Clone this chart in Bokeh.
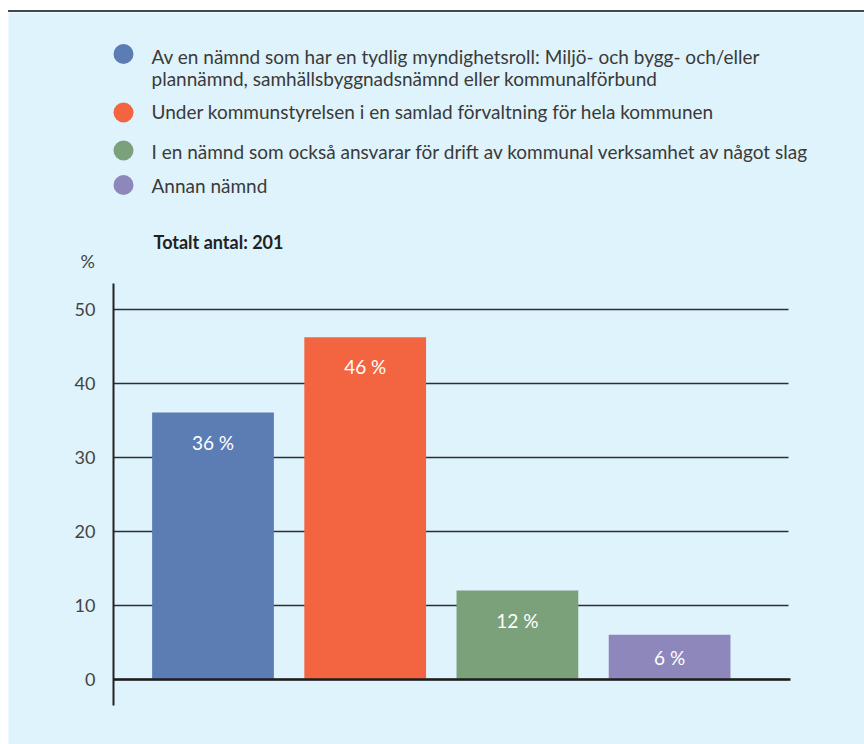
from bokeh.plotting import figure
from bokeh.models import Range1d, FixedTicker, Label, Div, Grid
from bokeh.layouts import column
from bokeh.embed import file_html
from bokeh.resources import INLINE
from bokeh.core.properties import value

# ---------------- data ----------------
categories = [
    "Av en nämnd som har en tydlig myndighetsroll: Miljö- och bygg- och/eller\nplannämnd, samhällsbyggnadsnämnd eller kommunalförbund",
    "Under kommunstyrelsen i en samlad förvaltning för hela kommunen",
    "I en nämnd som också ansvarar för drift av kommunal verksamhet av något slag",
    "Annan nämnd",
]
values = [36.1, 46.3, 12.0, 6.0]
value_labels = ["36 %", "46 %", "12 %", "6 %"]
colors = ["#5b7db4", "#f36540", "#7ba17b", "#8e87bb"]
y_ticks = [0, 10, 20, 30, 40, 50]
total_label = "Totalt antal: 201"
unit_label = "%"

# ---------------- layout constants (page pixels) ----------------
BG = "#dff3fc"
PAGE_L, PAGE_T = 8, 8
RULE_H = 4
FIG_W, FIG_H = 856, 732
FRAME_L, FRAME_R = PAGE_L, PAGE_L + FIG_W
FRAME_T, FRAME_B = PAGE_T + RULE_H, PAGE_T + RULE_H + FIG_H
AXIS_PX = 113
GRID_R_PX = 788
ZERO_PY, PX_PER_UNIT = 678.7, 7.388
X0_PX, STEP_PX = 212.5, 152.2
LABEL_SHIFT = 7  # baseline correction for Label rendering


def X(px):
    return (px - X0_PX) / STEP_PX


def Y(py):
    return (ZERO_PY - py) / PX_PER_UNIT


FONT = "Lato"

p = figure(width=FIG_W, height=FIG_H, output_backend="svg", toolbar_location=None,
           x_range=Range1d(X(FRAME_L), X(FRAME_R)),
           y_range=Range1d(Y(FRAME_B), Y(FRAME_T)),
           min_border_left=0, min_border_right=0,
           min_border_top=0, min_border_bottom=0)
p.background_fill_color = BG
p.border_fill_color = BG
p.outline_line_color = None

# axes / grid
p.xaxis.visible = False
p.xgrid.visible = False
p.ygrid.ticker = FixedTicker(ticks=y_ticks)
p.ygrid.grid_line_color = "#2e2e2e"
p.ygrid.grid_line_width = 1.5

HAS_CB = "cross_bounds" in Grid.properties()
if HAS_CB:
    p.ygrid.cross_bounds = (X(AXIS_PX), X(GRID_R_PX))
    zero_grid = Grid(dimension=1, ticker=FixedTicker(ticks=[0]),
                     cross_bounds=(X(AXIS_PX), X(GRID_R_PX + 2)),
                     grid_line_color="#1e1e1e", grid_line_width=2.5, level="annotation")
    p.add_layout(zero_grid, "center")
else:
    p.ygrid.visible = False
    p.segment(x0=[X(AXIS_PX)] * len(y_ticks), x1=[X(GRID_R_PX)] * len(y_ticks),
              y0=y_ticks, y1=y_ticks, line_color="#2e2e2e", line_width=1.5, level="underlay")
    p.segment(x0=[X(AXIS_PX)], x1=[X(GRID_R_PX + 2)], y0=[0], y1=[0],
              line_color="#1e1e1e", line_width=2.5, level="annotation")

yax = p.yaxis[0]
yax.fixed_location = X(AXIS_PX)
yax.ticker = FixedTicker(ticks=y_ticks)
yax.bounds = (Y(705), Y(283))
yax.axis_line_color = "#222222"
yax.axis_line_width = 2
yax.major_tick_line_color = None
yax.minor_tick_line_color = None
yax.major_label_text_font = FONT
yax.major_label_text_font_size = "18px"
yax.major_label_text_color = "#444444"
yax.major_label_standoff = 12

# bars
xs = list(range(len(values)))
p.vbar(x=xs, top=values, bottom=0, width=0.8, color=colors, line_color=None)

# value labels inside bars
label_y = [v - min(4.0, v / 2.0) for v in values]
p.text(x=xs, y=label_y, text=value_labels, text_align="center", text_baseline="middle",
       text_color="white", text_font=value(FONT), text_font_size="19px")

# legend markers
legend_circle_py = [53.5, 112, 150, 184.5]
p.scatter(x=[X(123)] * len(colors), y=[Y(v) for v in legend_circle_py], size=20,
          color=colors, line_color=None)

# legend texts
legend_baselines = [[63.3, 85.0], [118.3], [157.7], [191.7]]
for cat, bls in zip(categories, legend_baselines):
    for line, bl in zip(cat.split("\n"), bls):
        p.add_layout(Label(x=X(151), y=Y(bl - LABEL_SHIFT), text=line, text_align="left",
                           text_baseline="alphabetic", text_font=FONT,
                           text_font_size="19px", text_color="#3a3a3a"))

# title and unit
p.add_layout(Label(x=X(153), y=Y(249.3 - LABEL_SHIFT - 1), text=total_label, text_align="left",
                   text_baseline="alphabetic", text_font=FONT, text_font_size="18px",
                   text_font_style="bold", text_color="#222222"))
p.add_layout(Label(x=X(80), y=Y(266.7 - LABEL_SHIFT + 1), text=unit_label, text_align="left",
                   text_baseline="alphabetic", text_font=FONT, text_font_size="18px",
                   text_color="#444444"))

top_rule = Div(width=FIG_W, height=RULE_H, margin=0,
               styles={"background": "linear-gradient(#ffffff 0px, #ffffff 2px, #3d4a52 2px, #3d4a52 4px)"})

layout = column(top_rule, p, spacing=0, margin=(PAGE_T, 0, 0, PAGE_L))
open("out.html", "w").write(file_html(layout, INLINE))
